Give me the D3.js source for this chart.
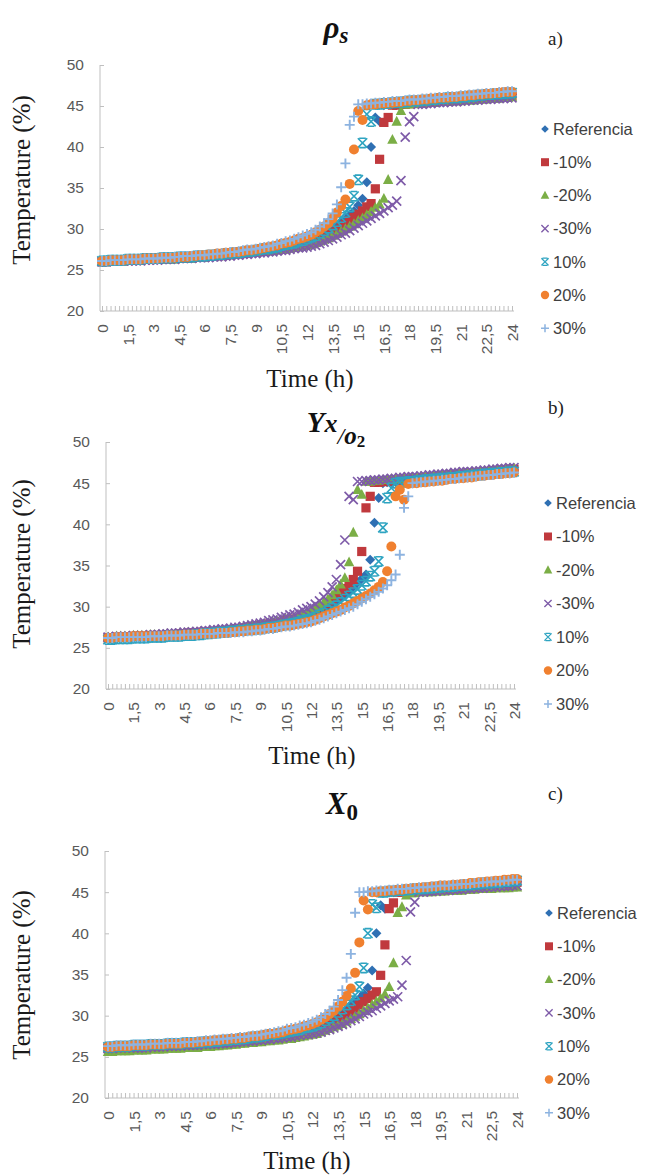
<!DOCTYPE html>
<html>
<head>
<meta charset="utf-8">
<script src="https://cdn.jsdelivr.net/npm/d3@7"></script>
<style>
  body { margin: 0; background: #fff; }
  svg { display: block; }
</style>
</head>
<body>
<svg id="fig" width="646" height="1176"></svg>
<script>
// Sampling grid (h), one point every quarter hour
const hours = [
  0,0.25,0.5,0.75,1,1.25,1.5,1.75,2,2.25,2.5,2.75,3,3.25,3.5,3.75,
  4,4.25,4.5,4.75,5,5.25,5.5,5.75,6,6.25,6.5,6.75,7,7.25,7.5,7.75,
  8,8.25,8.5,8.75,9,9.25,9.5,9.75,10,10.25,10.5,10.75,11,11.25,11.5,11.75,
  12,12.25,12.5,12.75,13,13.25,13.5,13.75,14,14.25,14.5,14.75,15,15.25,15.5,15.75,
  16,16.25,16.5,16.75,17,17.25,17.5,17.75,18,18.25,18.5,18.75,19,19.25,19.5,19.75,
  20,20.25,20.5,20.75,21,21.25,21.5,21.75,22,22.25,22.5,22.75,23,23.25,23.5,23.75,
  24
];
const tickLabels = ["0","1,5","3","4,5","6","7,5","9","10,5","12","13,5","15","16,5","18","19,5","21","22,5","24"];
const yTicks = [20, 25, 30, 35, 40, 45, 50];
const seriesNames = ["Referencia", "-10%", "-20%", "-30%", "10%", "20%", "30%"];

// ---- a) rho_s ----
const rhoRef = [
  26.1,26.1,26.1,26.2, 26.2,26.2,26.2,26.2,
  26.2,26.2,26.3,26.3, 26.3,26.3,26.4,26.4,
  26.4,26.4,26.5,26.5, 26.5,26.6,26.6,26.7,
  26.7,26.7,26.8,26.8, 26.8,26.9,26.9,27.0,
  27.0,27.1,27.2,27.2, 27.3,27.4,27.5,27.5,
  27.6,27.7,27.8,27.9, 28.0,28.1,28.3,28.4,
  28.5,28.7,28.9,29.1, 29.4,29.7,30.0,30.4,
  30.8,31.2,31.7,32.2, 32.9,33.7,35.7,40.0,
  43.6,43.1,45.1,45.2, 45.3,45.3,45.3,45.4,
  45.4,45.5,45.5,45.6, 45.6,45.7,45.7,45.7,
  45.8,45.8,45.9,45.9, 46.0,46.0,46.0,46.1,
  46.1,46.2,46.2,46.3, 46.3,46.3,46.4,46.4,
  46.4
];
const rhoM10 = [
  26.0,26.0,26.1,26.1, 26.1,26.1,26.2,26.2,
  26.2,26.2,26.3,26.3, 26.3,26.3,26.4,26.4,
  26.4,26.4,26.5,26.5, 26.5,26.5,26.6,26.6,
  26.6,26.7,26.7,26.8, 26.8,26.9,26.9,27.0,
  27.0,27.1,27.1,27.2, 27.2,27.3,27.3,27.4,
  27.4,27.5,27.6,27.7, 27.8,27.9,28.0,28.1,
  28.2,28.4,28.6,28.8, 29.0,29.3,29.6,29.9,
  30.2,30.6,31.0,31.4, 31.8,32.2,32.7,33.1,
  34.9,38.5,43.0,43.6, 45.1,45.1,45.2,45.2,
  45.3,45.3,45.4,45.4, 45.4,45.5,45.5,45.6,
  45.6,45.6,45.7,45.7, 45.8,45.8,45.9,45.9,
  45.9,46.0,46.0,46.1, 46.1,46.2,46.2,46.2,
  46.3
];
const rhoM20 = [
  26.0,26.0,26.1,26.1, 26.1,26.1,26.2,26.2,
  26.2,26.2,26.3,26.3, 26.3,26.3,26.3,26.3,
  26.3,26.3,26.4,26.4, 26.4,26.4,26.5,26.5,
  26.5,26.6,26.6,26.7, 26.7,26.8,26.8,26.9,
  26.9,27.0,27.0,27.1, 27.1,27.2,27.2,27.3,
  27.3,27.4,27.5,27.5, 27.6,27.7,27.8,27.9,
  28.0,28.1,28.3,28.5, 28.7,28.9,29.2,29.4,
  29.7,30.0,30.3,30.6, 31.0,31.3,31.7,32.1,
  32.6,33.0,33.7,36.0, 40.9,43.1,44.4,45.2,
  45.2,45.3,45.3,45.3, 45.4,45.4,45.4,45.5,
  45.5,45.5,45.6,45.6, 45.6,45.7,45.7,45.7,
  45.8,45.8,45.8,45.9, 45.9,45.9,46.0,46.0,
  46.1
];
const rhoM30 = [
  26.0,26.0,26.1,26.1, 26.1,26.1,26.1,26.1,
  26.1,26.1,26.2,26.2, 26.2,26.2,26.3,26.3,
  26.3,26.3,26.4,26.4, 26.4,26.4,26.5,26.5,
  26.5,26.5,26.6,26.6, 26.6,26.7,26.7,26.8,
  26.8,26.9,26.9,27.0, 27.0,27.1,27.1,27.2,
  27.2,27.3,27.4,27.4, 27.5,27.6,27.7,27.7,
  27.8,27.9,28.0,28.2, 28.4,28.6,28.8,29.0,
  29.3,29.5,29.8,30.1, 30.4,30.7,31.0,31.3,
  31.6,31.9,32.2,32.6, 32.9,33.4,35.9,41.2,
  43.1,43.7,45.2,45.2, 45.3,45.3,45.4,45.4,
  45.4,45.5,45.5,45.5, 45.6,45.6,45.7,45.7,
  45.7,45.8,45.8,45.8, 45.9,45.9,45.9,46.0,
  46.0
];
const rhoP10 = [
  26.1,26.1,26.2,26.2, 26.2,26.2,26.3,26.3,
  26.3,26.3,26.4,26.4, 26.4,26.4,26.5,26.5,
  26.5,26.5,26.6,26.6, 26.6,26.6,26.7,26.7,
  26.7,26.8,26.8,26.9, 26.9,27.0,27.0,27.1,
  27.1,27.2,27.3,27.3, 27.4,27.5,27.6,27.6,
  27.7,27.8,28.0,28.1, 28.2,28.3,28.5,28.6,
  28.8,29.0,29.2,29.5, 29.8,30.1,30.5,30.9,
  31.4,32.0,32.7,34.0, 36.0,40.5,44.0,43.1,
  45.2,45.2,45.3,45.3, 45.4,45.4,45.5,45.5,
  45.6,45.6,45.6,45.7, 45.7,45.8,45.8,45.9,
  45.9,46.0,46.0,46.0, 46.1,46.1,46.2,46.2,
  46.3,46.3,46.4,46.4, 46.5,46.5,46.5,46.6,
  46.6
];
const rhoP20 = [
  26.1,26.1,26.2,26.2, 26.2,26.2,26.3,26.3,
  26.3,26.3,26.4,26.4, 26.4,26.4,26.5,26.5,
  26.5,26.5,26.6,26.6, 26.6,26.7,26.7,26.8,
  26.8,26.9,26.9,27.0, 27.0,27.1,27.1,27.2,
  27.2,27.3,27.4,27.4, 27.5,27.6,27.7,27.8,
  27.9,28.0,28.2,28.3, 28.4,28.6,28.8,28.9,
  29.1,29.3,29.6,29.9, 30.3,30.7,31.3,32.0,
  32.8,33.6,35.5,39.7, 44.4,43.3,45.1,45.2,
  45.2,45.3,45.3,45.4, 45.4,45.5,45.5,45.6,
  45.6,45.7,45.7,45.8, 45.8,45.9,45.9,46.0,
  46.0,46.0,46.1,46.1, 46.2,46.2,46.3,46.3,
  46.4,46.4,46.5,46.5, 46.6,46.6,46.7,46.7,
  46.7
];
const rhoP30 = [
  26.1,26.1,26.2,26.2, 26.2,26.2,26.3,26.3,
  26.3,26.3,26.4,26.4, 26.4,26.4,26.5,26.5,
  26.5,26.6,26.6,26.7, 26.7,26.7,26.8,26.8,
  26.8,26.9,26.9,27.0, 27.0,27.1,27.2,27.2,
  27.3,27.4,27.5,27.5, 27.6,27.7,27.8,27.9,
  28.0,28.2,28.3,28.5, 28.6,28.8,29.0,29.2,
  29.4,29.6,29.9,30.3, 30.7,31.2,31.9,33.0,
  35.1,38.0,42.7,43.7, 45.2,45.2,45.3,45.3,
  45.4,45.4,45.5,45.5, 45.6,45.6,45.6,45.7,
  45.8,45.8,45.8,45.9, 45.9,46.0,46.0,46.1,
  46.1,46.2,46.2,46.2, 46.3,46.3,46.4,46.4,
  46.5,46.5,46.6,46.6, 46.6,46.7,46.7,46.8,
  46.8
];

// ---- b) Y x/o2 ----
const yxoRef = [
  26.2,26.2,26.3,26.3, 26.3,26.3,26.4,26.4,
  26.4,26.4,26.5,26.5, 26.5,26.5,26.6,26.6,
  26.6,26.6,26.7,26.7, 26.7,26.8,26.8,26.9,
  26.9,27.0,27.0,27.1, 27.1,27.2,27.2,27.3,
  27.3,27.4,27.5,27.5, 27.6,27.7,27.8,27.8,
  27.9,28.0,28.1,28.2, 28.3,28.4,28.6,28.7,
  28.8,29.0,29.3,29.6, 29.9,30.2,30.6,31.0,
  31.4,31.9,32.4,32.9, 33.4,33.9,35.7,40.2,
  43.2,45.0,45.1,45.1, 45.2,45.2,45.3,45.3,
  45.4,45.4,45.5,45.5, 45.6,45.6,45.7,45.7,
  45.8,45.8,45.9,45.9, 46.0,46.0,46.1,46.1,
  46.2,46.2,46.3,46.4, 46.4,46.5,46.5,46.6,
  46.6
];
const yxoM10 = [
  26.2,26.2,26.3,26.3, 26.3,26.3,26.4,26.4,
  26.4,26.4,26.5,26.5, 26.5,26.5,26.6,26.6,
  26.6,26.7,26.7,26.8, 26.8,26.8,26.9,26.9,
  26.9,27.0,27.0,27.1, 27.1,27.2,27.3,27.3,
  27.4,27.5,27.6,27.6, 27.7,27.8,27.9,27.9,
  28.0,28.1,28.3,28.4, 28.5,28.6,28.8,28.9,
  29.1,29.4,29.7,30.0, 30.4,30.8,31.2,31.7,
  32.2,32.7,33.3,34.3, 36.7,42.0,43.4,45.1,
  45.1,45.2,45.2,45.3, 45.3,45.4,45.4,45.5,
  45.5,45.6,45.6,45.7, 45.7,45.8,45.8,45.9,
  45.9,46.0,46.0,46.1, 46.1,46.2,46.2,46.3,
  46.3,46.4,46.4,46.5, 46.5,46.6,46.6,46.7,
  46.7
];
const yxoM20 = [
  26.3,26.3,26.4,26.4, 26.4,26.4,26.5,26.5,
  26.5,26.5,26.6,26.6, 26.6,26.6,26.7,26.7,
  26.7,26.8,26.8,26.9, 26.9,26.9,27.0,27.0,
  27.0,27.1,27.1,27.2, 27.2,27.3,27.4,27.4,
  27.5,27.6,27.7,27.7, 27.8,27.9,28.0,28.1,
  28.2,28.3,28.5,28.6, 28.7,28.9,29.1,29.3,
  29.5,29.8,30.1,30.5, 30.9,31.4,32.0,32.7,
  33.5,35.4,39.0,44.2, 43.6,45.2,45.2,45.3,
  45.3,45.4,45.4,45.5, 45.5,45.6,45.6,45.7,
  45.7,45.7,45.8,45.8, 45.9,45.9,46.0,46.0,
  46.1,46.1,46.2,46.2, 46.3,46.3,46.3,46.4,
  46.4,46.5,46.5,46.6, 46.6,46.7,46.7,46.8,
  46.8
];
const yxoM30 = [
  26.3,26.3,26.4,26.4, 26.4,26.4,26.5,26.5,
  26.5,26.5,26.6,26.6, 26.6,26.7,26.7,26.8,
  26.8,26.8,26.9,26.9, 26.9,27.0,27.0,27.1,
  27.1,27.2,27.2,27.3, 27.3,27.4,27.5,27.5,
  27.6,27.7,27.8,27.9, 28.0,28.1,28.3,28.4,
  28.5,28.7,28.8,29.0, 29.1,29.3,29.6,29.8,
  30.0,30.3,30.7,31.2, 31.7,32.4,33.3,35.1,
  38.1,43.4,43.0,45.2, 45.2,45.3,45.3,45.4,
  45.4,45.5,45.5,45.6, 45.6,45.7,45.7,45.8,
  45.8,45.8,45.9,45.9, 46.0,46.0,46.1,46.1,
  46.2,46.2,46.3,46.3, 46.4,46.4,46.4,46.5,
  46.5,46.6,46.6,46.7, 46.7,46.8,46.8,46.9,
  46.9
];
const yxoP10 = [
  26.0,26.0,26.1,26.1, 26.1,26.1,26.2,26.2,
  26.2,26.2,26.3,26.3, 26.3,26.3,26.4,26.4,
  26.4,26.4,26.5,26.5, 26.5,26.6,26.6,26.7,
  26.7,26.8,26.8,26.9, 26.9,27.0,27.0,27.1,
  27.1,27.2,27.2,27.3, 27.3,27.4,27.5,27.5,
  27.6,27.7,27.8,27.9, 28.0,28.1,28.3,28.4,
  28.5,28.7,29.0,29.2, 29.5,29.8,30.1,30.5,
  30.9,31.3,31.7,32.1, 32.6,33.1,33.7,34.3,
  35.5,39.6,43.2,44.4, 45.0,45.1,45.1,45.2,
  45.2,45.3,45.3,45.4, 45.4,45.5,45.5,45.6,
  45.6,45.7,45.7,45.8, 45.8,45.9,45.9,46.0,
  46.0,46.1,46.1,46.2, 46.2,46.3,46.3,46.4,
  46.4
];
const yxoP20 = [
  26.2,26.2,26.3,26.3, 26.3,26.3,26.4,26.4,
  26.4,26.4,26.4,26.4, 26.4,26.4,26.5,26.5,
  26.5,26.5,26.6,26.6, 26.6,26.6,26.7,26.7,
  26.7,26.7,26.8,26.8, 26.8,26.9,26.9,27.0,
  27.0,27.1,27.1,27.2, 27.2,27.3,27.4,27.4,
  27.5,27.6,27.7,27.7, 27.8,27.9,28.0,28.1,
  28.2,28.4,28.6,28.8, 29.0,29.2,29.4,29.6,
  29.9,30.1,30.4,30.7, 31.0,31.3,31.6,32.0,
  32.4,33.0,34.3,37.3, 43.4,44.2,43.0,44.9,
  45.0,45.0,45.1,45.1, 45.2,45.2,45.3,45.3,
  45.4,45.5,45.5,45.6, 45.6,45.7,45.7,45.8,
  45.9,45.9,46.0,46.0, 46.1,46.1,46.2,46.2,
  46.3
];
const yxoP30 = [
  26.2,26.2,26.3,26.3, 26.3,26.3,26.3,26.3,
  26.3,26.3,26.4,26.4, 26.4,26.4,26.5,26.5,
  26.5,26.5,26.6,26.6, 26.6,26.6,26.7,26.7,
  26.7,26.7,26.8,26.8, 26.8,26.8,26.9,26.9,
  26.9,27.0,27.0,27.1, 27.1,27.2,27.3,27.3,
  27.4,27.5,27.6,27.6, 27.7,27.8,27.9,28.0,
  28.1,28.3,28.4,28.6, 28.8,29.0,29.2,29.4,
  29.6,29.8,30.0,30.3, 30.6,30.9,31.2,31.5,
  31.8,32.2,32.6,33.2, 33.9,36.3,42.0,43.4,
  45.0,45.1,45.1,45.2, 45.2,45.3,45.3,45.4,
  45.4,45.5,45.5,45.6, 45.7,45.7,45.8,45.8,
  45.9,45.9,46.0,46.0, 46.1,46.1,46.2,46.2,
  46.3
];

// ---- c) X0 ----
const x0Ref = [
  26.1,26.1,26.2,26.2, 26.2,26.2,26.3,26.3,
  26.3,26.3,26.4,26.4, 26.4,26.4,26.5,26.5,
  26.5,26.5,26.6,26.6, 26.6,26.6,26.7,26.7,
  26.7,26.8,26.8,26.9, 26.9,27.0,27.0,27.1,
  27.1,27.2,27.3,27.3, 27.4,27.5,27.6,27.6,
  27.7,27.8,27.9,27.9, 28.0,28.1,28.3,28.4,
  28.5,28.7,28.9,29.1, 29.4,29.7,30.0,30.3,
  30.7,31.1,31.6,32.1, 32.7,33.4,35.5,40.0,
  43.4,43.0,45.0,45.0, 45.1,45.1,45.2,45.2,
  45.3,45.3,45.3,45.4, 45.4,45.5,45.5,45.6,
  45.6,45.7,45.7,45.7, 45.8,45.8,45.9,45.9,
  46.0,46.0,46.0,46.1, 46.1,46.2,46.2,46.3,
  46.3
];
const x0M10 = [
  26.1,26.1,26.2,26.2, 26.2,26.2,26.3,26.3,
  26.3,26.3,26.3,26.3, 26.3,26.3,26.4,26.4,
  26.4,26.4,26.5,26.5, 26.5,26.5,26.6,26.6,
  26.6,26.7,26.7,26.8, 26.8,26.9,26.9,27.0,
  27.0,27.1,27.1,27.2, 27.2,27.3,27.4,27.4,
  27.5,27.6,27.7,27.7, 27.8,27.9,28.0,28.1,
  28.2,28.4,28.6,28.8, 29.0,29.3,29.6,29.9,
  30.2,30.5,30.9,31.3, 31.7,32.1,32.5,32.9,
  34.9,38.6,43.0,43.7, 45.0,45.0,45.1,45.1,
  45.2,45.2,45.3,45.3, 45.3,45.4,45.4,45.5,
  45.5,45.6,45.6,45.6, 45.7,45.7,45.8,45.8,
  45.9,45.9,45.9,46.0, 46.0,46.1,46.1,46.2,
  46.2
];
const x0M20 = [
  25.6,25.6,25.7,25.7, 25.7,25.7,25.8,25.8,
  25.8,25.8,25.9,25.9, 25.9,25.9,26.0,26.0,
  26.0,26.0,26.1,26.1, 26.1,26.1,26.2,26.2,
  26.2,26.3,26.3,26.4, 26.4,26.5,26.5,26.6,
  26.6,26.7,26.7,26.8, 26.8,26.9,26.9,27.0,
  27.0,27.1,27.2,27.2, 27.3,27.4,27.5,27.6,
  27.7,27.8,28.0,28.2, 28.4,28.6,28.8,29.0,
  29.3,29.6,29.9,30.2, 30.6,30.9,31.3,31.7,
  32.1,32.6,33.5,36.4, 42.5,43.2,44.6,44.9,
  44.9,45.0,45.0,45.0, 45.0,45.1,45.1,45.1,
  45.2,45.2,45.2,45.2, 45.3,45.3,45.3,45.4,
  45.4,45.4,45.4,45.5, 45.5,45.5,45.5,45.6,
  45.6
];
const x0M30 = [
  26.0,26.0,26.1,26.1, 26.1,26.1,26.1,26.1,
  26.1,26.1,26.2,26.2, 26.2,26.2,26.3,26.3,
  26.3,26.3,26.4,26.4, 26.4,26.4,26.5,26.5,
  26.5,26.5,26.6,26.6, 26.6,26.7,26.7,26.8,
  26.8,26.9,26.9,27.0, 27.0,27.1,27.1,27.2,
  27.2,27.3,27.4,27.4, 27.5,27.6,27.7,27.7,
  27.8,27.9,28.0,28.2, 28.3,28.5,28.7,28.9,
  29.1,29.4,29.6,29.9, 30.2,30.4,30.6,30.9,
  31.2,31.5,31.8,32.0, 32.3,33.7,36.7,42.6,
  43.8,45.0,45.0,45.1, 45.1,45.1,45.2,45.2,
  45.2,45.3,45.3,45.3, 45.4,45.4,45.5,45.5,
  45.5,45.6,45.6,45.6, 45.7,45.7,45.7,45.8,
  45.8
];
const x0P10 = [
  26.2,26.2,26.3,26.3, 26.3,26.3,26.4,26.4,
  26.4,26.4,26.5,26.5, 26.5,26.5,26.6,26.6,
  26.6,26.6,26.7,26.7, 26.7,26.7,26.8,26.8,
  26.8,26.9,26.9,27.0, 27.0,27.1,27.1,27.2,
  27.2,27.3,27.4,27.4, 27.5,27.6,27.7,27.7,
  27.8,27.9,28.0,28.1, 28.2,28.3,28.5,28.6,
  28.7,28.9,29.1,29.4, 29.7,30.0,30.4,30.8,
  31.3,31.8,32.5,33.5, 35.8,40.0,43.5,43.1,
  45.0,45.0,45.1,45.1, 45.2,45.2,45.3,45.3,
  45.4,45.4,45.4,45.5, 45.5,45.6,45.6,45.7,
  45.7,45.7,45.8,45.8, 45.9,45.9,46.0,46.0,
  46.1,46.1,46.1,46.2, 46.2,46.3,46.3,46.4,
  46.4
];
const x0P20 = [
  26.2,26.2,26.3,26.3, 26.3,26.3,26.4,26.4,
  26.4,26.4,26.5,26.5, 26.5,26.5,26.6,26.6,
  26.6,26.6,26.7,26.7, 26.7,26.8,26.8,26.9,
  26.9,27.0,27.0,27.1, 27.1,27.2,27.2,27.3,
  27.3,27.4,27.5,27.5, 27.6,27.7,27.8,27.8,
  27.9,28.0,28.2,28.3, 28.4,28.5,28.7,28.8,
  29.0,29.2,29.5,29.8, 30.2,30.6,31.1,31.7,
  32.4,33.3,35.2,38.9, 44.0,42.9,45.0,45.0,
  45.1,45.1,45.2,45.2, 45.3,45.3,45.4,45.4,
  45.5,45.5,45.6,45.6, 45.7,45.7,45.8,45.8,
  45.8,45.9,45.9,46.0, 46.0,46.1,46.1,46.2,
  46.2,46.3,46.3,46.4, 46.4,46.5,46.5,46.6,
  46.6
];
const x0P30 = [
  26.3,26.3,26.4,26.4, 26.4,26.4,26.5,26.5,
  26.5,26.5,26.6,26.6, 26.6,26.6,26.7,26.7,
  26.7,26.7,26.8,26.8, 26.8,26.9,26.9,27.0,
  27.0,27.1,27.1,27.2, 27.2,27.3,27.3,27.4,
  27.4,27.5,27.6,27.6, 27.7,27.8,27.9,28.0,
  28.1,28.2,28.4,28.5, 28.6,28.8,28.9,29.1,
  29.3,29.5,29.8,30.2, 30.6,31.1,31.9,33.1,
  34.6,37.5,42.5,45.0, 45.0,45.1,45.1,45.2,
  45.2,45.2,45.3,45.3, 45.4,45.4,45.4,45.5,
  45.5,45.6,45.6,45.6, 45.7,45.7,45.8,45.8,
  45.8,45.9,45.9,46.0, 46.0,46.0,46.1,46.1,
  46.2,46.2,46.3,46.3, 46.3,46.4,46.4,46.5,
  46.5
];

// ---------------- drawing ----------------
const svg = d3.select("#fig");
const SANS = "'Liberation Sans', Arial, sans-serif";
const SERIF = "'Liberation Serif', 'Times New Roman', serif";
const AXIS_GREY = "#BFBFBF";
const LABEL_GREY = "#595959";

// series styling, in series order
const styles = [
  { kind: "diamond",  color: "#2F70B3", s: 5.0, ls: 3.8 },
  { kind: "square",   color: "#C0393D", s: 4.6, ls: 4.0 },
  { kind: "triangle", color: "#7BAE46", s: 5.2, ls: 4.3 },
  { kind: "cross",    color: "#7E5BA8", s: 4.5, ls: 3.6, stroke: 1.7 },
  { kind: "star",     color: "#2EA4C1", s: 4.7, ls: 3.6, stroke: 1.6 },
  { kind: "circle",   color: "#F0802F", s: 5.0, ls: 4.2 },
  { kind: "plus",     color: "#8DB3E0", s: 5.0, ls: 4.0, stroke: 1.9 }
];

function markerPath(kind, s) {
  switch (kind) {
    case "diamond":  return `M0,${-s}L${s},0L0,${s}L${-s},0Z`;
    case "square":   return `M${-s},${-s}H${s}V${s}H${-s}Z`;
    case "triangle": return `M0,${-s * 1.1}L${s},${s * 0.8}L${-s},${s * 0.8}Z`;
    case "circle":   return d3.symbol(d3.symbolCircle, Math.PI * s * s)();
    case "cross":    return `M${-s},${-s}L${s},${s}M${-s},${s}L${s},${-s}`;
    case "plus":     return `M${-s},0H${s}M0,${-s}V${s}`;
    case "star":     return `M${-s},${-s}L${s},${s}M${-s},${s}L${s},${-s}` +
                            `M${-s * 0.7},${-s}H${s * 0.7}M${-s * 0.7},${s}H${s * 0.7}`;
  }
}
const isStroked = k => k === "cross" || k === "plus" || k === "star";

function styleMarker(sel, st) {
  if (isStroked(st.kind)) {
    sel.attr("fill", "none").attr("stroke", st.color)
       .attr("stroke-width", st.stroke).attr("stroke-linecap", "butt");
  } else {
    sel.attr("fill", st.color).attr("stroke", "none");
  }
}

function titleRho(t) {
  t.append("tspan").attr("font-size", 31).text("ρ");
  t.append("tspan").attr("font-size", 23).attr("dy", 5).text("s");
}
function titleYxo(t) {
  t.append("tspan").attr("font-size", 29).text("Y");
  t.append("tspan").attr("font-size", 26).text("x");
  t.append("tspan").attr("font-size", 24).attr("font-weight", "normal").attr("dy", 12).text("/");
  t.append("tspan").attr("font-size", 25).text("o");
  t.append("tspan").attr("font-size", 17).attr("font-style", "normal").attr("dy", 3).text("2");
}
function titleX0(t) {
  t.append("tspan").attr("font-size", 31).text("X");
  t.append("tspan").attr("font-size", 23).attr("font-style", "normal").attr("dy", 6).text("0");
}

const panels = [
  { series: [rhoRef, rhoM10, rhoM20, rhoM30, rhoP10, rhoP20, rhoP30],
    title: titleRho, letter: "a)",
    axisX: 100, x0: 102, x1: 512, yTop: 65, yBot: 311,
    titleX: 336, titleY: 38, letterX: 548, letterY: 45,
    yTitleY: 180, timeX: 310, timeY: 387,
    legX: 545, legY: 129, legStep: 33.2 },
  { series: [yxoRef, yxoM10, yxoM20, yxoM30, yxoP10, yxoP20, yxoP30],
    title: titleYxo, letter: "b)",
    axisX: 106, x0: 108, x1: 514, yTop: 442, yBot: 689,
    titleX: 336, titleY: 432, letterX: 548, letterY: 414,
    yTitleY: 564, timeX: 312, timeY: 764,
    legX: 548, legY: 503, legStep: 33.5 },
  { series: [x0Ref, x0M10, x0M20, x0M30, x0P10, x0P20, x0P30],
    title: titleX0, letter: "c)",
    axisX: 105, x0: 108, x1: 517, yTop: 851, yBot: 1098,
    titleX: 342, titleY: 814, letterX: 548, letterY: 800,
    yTitleY: 975, timeX: 307, timeY: 1169,
    legX: 549, legY: 913, legStep: 33.3 }
];

panels.forEach(p => {
  const g = svg.append("g");
  const x = d3.scalePoint().domain(hours).range([p.x0, p.x1]);
  const y = d3.scaleLinear().domain([20, 50]).range([p.yBot, p.yTop]);

  // y axis: inside ticks, grey labels
  const ya = g.append("g").attr("transform", `translate(${p.axisX},0)`)
    .call(d3.axisLeft(y).tickValues(yTicks).tickSizeInner(-4).tickSizeOuter(0).tickPadding(16));
  ya.select(".domain").remove();
  ya.selectAll("line").attr("stroke", AXIS_GREY);
  ya.selectAll("text").attr("fill", LABEL_GREY).attr("font-family", SANS).attr("font-size", 15.5);
  g.append("line").attr("x1", p.axisX).attr("x2", p.axisX)
    .attr("y1", y(50)).attr("y2", y(20)).attr("stroke", AXIS_GREY);

  // x axis: a tick for every category
  const xa = g.append("g").attr("transform", `translate(0,${p.yBot})`)
    .call(d3.axisBottom(x).tickValues(hours).tickSizeInner(-5).tickSizeOuter(0).tickFormat(""));
  xa.select(".domain").remove();
  xa.selectAll("line").attr("stroke", AXIS_GREY);
  g.append("line").attr("x1", p.axisX).attr("x2", p.x1 + 2)
    .attr("y1", p.yBot).attr("y2", p.yBot).attr("stroke", AXIS_GREY);

  // rotated category labels every 1.5 h
  const labelHours = hours.filter((d, i) => i % 6 === 0);
  const xl = g.append("g").attr("transform", `translate(0,${p.yBot})`)
    .call(d3.axisBottom(x).tickValues(labelHours).tickSize(0)
      .tickFormat((d, i) => tickLabels[i]));
  xl.select(".domain").remove();
  xl.selectAll("text")
    .attr("fill", LABEL_GREY).attr("font-family", SANS).attr("font-size", 15.5)
    .attr("text-anchor", "end").attr("transform", "rotate(-90)")
    .attr("x", -13).attr("y", 0).attr("dy", "0.35em");

  // markers, drawn in series order
  p.series.forEach((vals, j) => {
    const st = styles[j];
    const d = markerPath(st.kind, st.s);
    g.append("g").selectAll("path").data(vals).join("path")
      .attr("d", d)
      .attr("transform", (v, i) => `translate(${x(hours[i])},${y(v)})`)
      .call(styleMarker, st);
  });

  // legend
  seriesNames.forEach((name, j) => {
    const st = styles[j];
    const ly = p.legY + j * p.legStep;
    g.append("path").attr("d", markerPath(st.kind, st.ls))
      .attr("transform", `translate(${p.legX},${ly})`)
      .call(styleMarker, Object.assign({}, st, { stroke: (st.stroke || 1) * 0.8 }));
    g.append("text").attr("x", p.legX + 8).attr("y", ly).attr("dy", "0.35em")
      .attr("font-family", SANS).attr("font-size", 16.5).attr("fill", "#404040")
      .text(name);
  });

  // titles
  const t = g.append("text").attr("x", p.titleX).attr("y", p.titleY)
    .attr("text-anchor", "middle").attr("font-family", SERIF)
    .attr("font-weight", "bold").attr("font-style", "italic").attr("fill", "#111");
  p.title(t);

  g.append("text").attr("x", p.letterX).attr("y", p.letterY)
    .attr("font-family", SERIF).attr("font-size", 19).attr("fill", "#222")
    .text(p.letter);

  g.append("text").attr("x", p.timeX).attr("y", p.timeY).attr("text-anchor", "middle")
    .attr("font-family", SERIF).attr("font-size", 25).attr("fill", "#1a1a1a")
    .text("Time (h)");

  g.append("text").attr("transform", `translate(30,${p.yTitleY}) rotate(-90)`)
    .attr("text-anchor", "middle").attr("font-family", SERIF).attr("font-size", 25)
    .attr("fill", "#1a1a1a").text("Temperature (%)");
});
</script>
</body>
</html>
